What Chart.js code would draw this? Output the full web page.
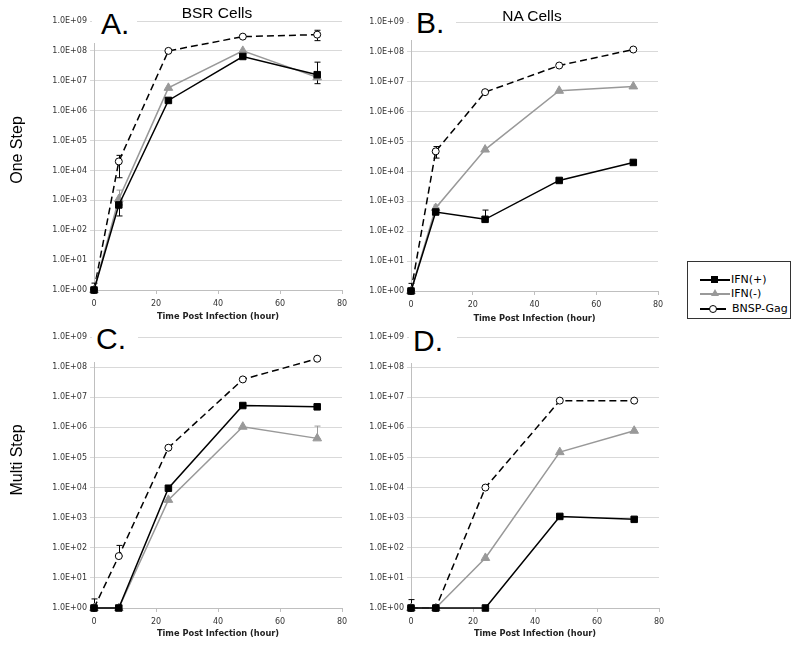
<!DOCTYPE html>
<html>
<head>
<meta charset="utf-8">
<script src="https://cdn.jsdelivr.net/npm/chart.js@4.4.0/dist/chart.umd.min.js"></script>
<style>
  body { margin: 0; background: #fff; }
  #page { position: relative; width: 800px; height: 648px; overflow: hidden; font-family: "Liberation Sans", Arial, sans-serif; }
  #page canvas { position: absolute; }
  .box { position: absolute; background: #fff; }
  .letter { position: absolute; font-size: 30px; line-height: 30px; color: #000; white-space: nowrap; }
  .cell { position: absolute; width: 200px; text-align: center; font-size: 15.5px; line-height: 16px; color: #000; }
  .side { position: absolute; width: 120px; height: 20px; line-height: 20px; text-align: center; font-size: 16px; color: #000; transform: rotate(-90deg); }
  #legend { position: absolute; left: 687px; top: 261px; width: 102px; height: 56px; border: 1px solid #333; font-family: "DejaVu Sans", Verdana, sans-serif; font-size: 11px; color: #000; }
  .row { position: absolute; left: 0; width: 102px; height: 14px; }
  .row .ln { position: absolute; top: 6px; height: 1.5px; }
  .row .mk { position: absolute; }
  .row .tx { position: absolute; top: 0; line-height: 14px; }
</style>
</head>
<body>
<div id="page">
  <canvas id="chartA" width="360" height="328" style="left:0;top:0"></canvas>
  <canvas id="chartB" width="320" height="328" style="left:360px;top:0"></canvas>
  <canvas id="chartC" width="360" height="328" style="left:0;top:320px"></canvas>
  <canvas id="chartD" width="320" height="328" style="left:360px;top:320px"></canvas>
  <div id="legend"></div>
</div>
<script>
var hours = [0, 8, 24, 48, 72];
var seriesNames = ['IFN(+)', 'IFN(-)', 'BNSP-Gag'];
var yTicks = [1, 1e1, 1e2, 1e3, 1e4, 1e5, 1e6, 1e7, 1e8, 1e9];
var yTickLabels = ['1.0E+00', '1.0E+01', '1.0E+02', '1.0E+03', '1.0E+04',
  '1.0E+05', '1.0E+06', '1.0E+07', '1.0E+08', '1.0E+09'];
var xTitle = 'Time Post Infection (hour)';
var cellTitles = ['BSR Cells', 'NA Cells'];
var stepTitles = ['One Step', 'Multi Step'];
var panelLetters = ['A.', 'B.', 'C.', 'D.'];

// A. BSR cells, one step
var bsrOneIfnPos = [1, 700, 2.2e6, 6.5e7, 1.6e7];
var bsrOneIfnNeg = [1, 1.1e3, 5.8e6, 1e8, 1.3e7];
var bsrOneGag = [1, 2e4, 1e8, 3e8, 3.5e8];
// error bars: [hour, low, high, series]
var bsrOneErr = [[0, 1, 1.7, 2], [8, 5.7e3, 3.2e4, 2], [8, 1.1e3, 2.2e3, 1],
  [8, 3e2, 700, 0], [72, 8e6, 4.2e7, 0], [72, 2.2e8, 4.9e8, 2]];

// B. NA cells, one step
var naOneIfnPos = [1, 440, 250, 5e3, 2e4];
var naOneIfnNeg = [1, 600, 5.4e4, 5e6, 7e6];
var naOneGag = [1, 4.7e4, 4.5e6, 3.5e7, 1.2e8];
var naOneErr = [[0, 1, 1.8, 2], [8, 2.8e4, 6.8e4, 2], [8, 600, 750, 1], [24, 250, 510, 0]];

// C. BSR cells, multi step
var bsrMultiIfnPos = [1, 1, 9.5e3, 5.3e6, 4.8e6];
var bsrMultiIfnNeg = [1, 1, 3.9e3, 1.05e6, 4.3e5];
var bsrMultiGag = [1, 53, 2.1e5, 3.9e7, 1.9e8];
var bsrMultiErr = [[0, 1, 2, 2], [8, 53, 120, 2], [72, 4.3e5, 1.1e6, 1]];

// D. NA cells, multi step
var naMultiIfnPos = [1, 1, 1, 1.1e3, 880];
var naMultiIfnNeg = [1, 1, 46, 1.5e5, 7.7e5];
var naMultiGag = [1, 1, 1e4, 7.7e6, 7.7e6];
var naMultiErr = [[0, 1, 1.9, 2]];

var tickFont = '"DejaVu Sans", Verdana, sans-serif';
var seriesColors = ['#000000', '#999999', '#000000'];
var seriesStyles = [
  { pointStyle: 'rect', pointRadius: 4.6, pointBackgroundColor: '#000', pointBorderColor: '#000', borderDash: [] },
  { pointStyle: 'triangle', pointRadius: 5, pointBackgroundColor: '#999', pointBorderColor: '#999', borderDash: [] },
  { pointStyle: 'circle', pointRadius: 3.5, pointBackgroundColor: '#fff', pointBorderColor: '#000', borderDash: [7, 4] }
];

var panels = [
  { id: 'chartA', left: 0, top: 0, width: 360, height: 328, plot: [94, 21, 342, 290], titlePad: 6,
    series: [bsrOneIfnPos, bsrOneIfnNeg, bsrOneGag], errors: bsrOneErr },
  { id: 'chartB', left: 360, top: 0, width: 320, height: 328, plot: [411, 22, 658, 291], titlePad: 4,
    series: [naOneIfnPos, naOneIfnNeg, naOneGag], errors: naOneErr },
  { id: 'chartC', left: 0, top: 320, width: 360, height: 328, plot: [94, 337, 342, 608], titlePad: 9,
    series: [bsrMultiIfnPos, bsrMultiIfnNeg, bsrMultiGag], errors: bsrMultiErr },
  { id: 'chartD', left: 360, top: 320, width: 320, height: 328, plot: [411, 337, 659, 608], titlePad: 9,
    series: [naMultiIfnPos, naMultiIfnNeg, naMultiGag], errors: naMultiErr }
];

var errorsById = {};
panels.forEach(function (p) { errorsById[p.id] = p.errors; });

var errorBarPlugin = {
  id: 'errorBars',
  beforeDatasetsDraw: function (chart) {
    var ctx = chart.ctx;
    var xs = chart.scales.x;
    var ys = chart.scales.y;
    (errorsById[chart.canvas.id] || []).forEach(function (e) {
      var x = Math.round(xs.getPixelForValue(e[0])) + 0.5;
      var lo = ys.getPixelForValue(e[1]);
      var hi = ys.getPixelForValue(e[2]);
      ctx.save();
      ctx.strokeStyle = seriesColors[e[3]];
      ctx.lineWidth = 1;
      ctx.beginPath();
      ctx.moveTo(x, lo);
      ctx.lineTo(x, hi);
      ctx.moveTo(x - 3, hi);
      ctx.lineTo(x + 3, hi);
      ctx.moveTo(x - 3, lo);
      ctx.lineTo(x + 3, lo);
      ctx.stroke();
      ctx.restore();
    });
  }
};

panels.forEach(function (p) {
  var plotLeft = p.plot[0], plotTop = p.plot[1], plotRight = p.plot[2], plotBottom = p.plot[3];
  new Chart(document.getElementById(p.id), {
    type: 'line',
    data: {
      datasets: p.series.map(function (vals, i) {
        var st = seriesStyles[i];
        return {
          label: seriesNames[i],
          data: hours.map(function (h, k) { return { x: h, y: vals[k] }; }),
          borderColor: seriesColors[i],
          backgroundColor: st.pointBackgroundColor,
          borderWidth: 1.5,
          borderDash: st.borderDash,
          tension: 0,
          pointStyle: st.pointStyle,
          pointRadius: st.pointRadius,
          pointBackgroundColor: st.pointBackgroundColor,
          pointBorderColor: st.pointBorderColor,
          pointBorderWidth: 1,
          clip: false
        };
      })
    },
    options: {
      responsive: false,
      animation: false,
      layout: { padding: { left: 0, top: plotTop - p.top, right: p.left + p.width - plotRight, bottom: 0 } },
      plugins: { legend: { display: false }, tooltip: { enabled: false } },
      scales: {
        x: {
          type: 'linear', min: 0, max: 80,
          ticks: { stepSize: 20, color: '#333', padding: 5, maxRotation: 0, font: { family: tickFont, size: 8 } },
          grid: { drawOnChartArea: false, tickLength: 4, color: '#bfbfbf' },
          border: { color: '#bfbfbf' },
          title: { display: true, text: xTitle, color: '#222', padding: { top: 0, bottom: p.titlePad },
            font: { family: tickFont, size: 8.25, weight: 'bold' } },
          afterFit: function (s) { s.height = p.top + p.height - plotBottom; }
        },
        y: {
          type: 'logarithmic', min: 1, max: 1e9,
          afterBuildTicks: function (s) { s.ticks = yTicks.map(function (v) { return { value: v }; }); },
          ticks: {
            autoSkip: false, padding: 3, color: '#333', font: { family: tickFont, size: 8 },
            callback: function (v, i) { return yTickLabels[i]; }
          },
          grid: { color: '#d9d9d9', tickLength: 4 },
          border: { color: '#bfbfbf' },
          afterFit: function (s) { s.width = plotLeft - p.left; }
        }
      }
    },
    plugins: [errorBarPlugin]
  });
});

var page = document.getElementById('page');
function addDiv(cls, css, text) {
  var el = document.createElement('div');
  el.className = cls;
  el.style.cssText = css;
  if (text) el.textContent = text;
  page.appendChild(el);
  return el;
}

// white boxes behind the panel letters, as in the original figure
var letterBoxes = [[92, 0, 45, 43], [409, 0, 47, 40], [92, 320, 46, 42], [409, 320, 48, 43]];
var letterSpots = [[101, 9], [416, 8], [96, 324], [413, 326]];
letterBoxes.forEach(function (b, i) {
  addDiv('box', 'left:' + b[0] + 'px;top:' + b[1] + 'px;width:' + b[2] + 'px;height:' + b[3] + 'px');
  addDiv('letter', 'left:' + letterSpots[i][0] + 'px;top:' + letterSpots[i][1] + 'px', panelLetters[i]);
});

addDiv('cell', 'left:117px;top:5px', cellTitles[0]);
addDiv('cell', 'left:432px;top:8px', cellTitles[1]);
addDiv('side', 'left:-43px;top:140px', stepTitles[0]);
addDiv('side', 'left:-43px;top:450px', stepTitles[1]);

var legend = document.getElementById('legend');
var rowTops = [11, 25, 40];
seriesNames.forEach(function (name, i) {
  var row = document.createElement('div');
  row.className = 'row';
  row.style.top = rowTops[i] + 'px';
  var ln = '<div class="ln" style="left:12px;width:' + (i === 2 ? 26 : 30) + 'px;background:' + seriesColors[i] + '"></div>';
  var mk;
  if (i === 0) {
    mk = '<div class="mk" style="left:23px;top:3px;width:7px;height:7px;background:#000"></div>';
  } else if (i === 1) {
    mk = '<div class="mk" style="left:23px;top:2px;width:0;height:0;border-left:4px solid transparent;border-right:4px solid transparent;border-bottom:7px solid #999"></div>';
  } else {
    mk = '<div class="mk" style="left:21px;top:3px;width:6px;height:6px;border:1px solid #000;border-radius:50%;background:#fff"></div>';
  }
  var tx = '<div class="tx" style="left:' + (i === 2 ? 44 : 43) + 'px">' + name + '</div>';
  row.innerHTML = ln + mk + tx;
  legend.appendChild(row);
});
</script>
</body>
</html>
